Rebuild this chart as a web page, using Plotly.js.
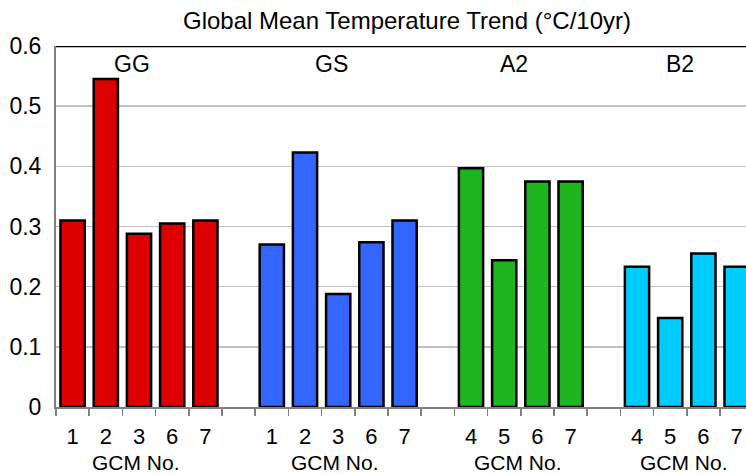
<!DOCTYPE html>
<html><head><meta charset="utf-8">
<script src="https://cdn.plot.ly/plotly-3.0.1.min.js"></script>
<style>html,body{margin:0;padding:0;overflow:hidden;background:#fff}</style>
</head><body><div id="chart" style="width:746px;height:475px"></div>
<script>
const groupNames = ['GG', 'GS', 'A2', 'B2'];
const gcmGG = ['1', '2', '3', '6', '7'];
const gcmGS = ['1', '2', '3', '6', '7'];
const gcmA2 = ['4', '5', '6', '7'];
const gcmB2 = ['4', '5', '6', '7'];
const trendGG = [0.31, 0.545, 0.288, 0.305, 0.31];
const trendGS = [0.27, 0.423, 0.188, 0.274, 0.31];
const trendA2 = [0.397, 0.244, 0.375, 0.375];
const trendB2 = [0.233, 0.148, 0.255, 0.233];
const groupColors = ['#DD0000', '#3366FF', '#1FB51F', '#00CCFF'];
const yTickVals = [0, 0.1, 0.2, 0.3, 0.4, 0.5, 0.6];
const yTickText = ['0', '0.1', '0.2', '0.3', '0.4', '0.5', '0.6'];
const xLabel = 'GCM No.';
const chartTitle = 'Global Mean Temperature Trend (°C/10yr)';

const groupLabels = [gcmGG, gcmGS, gcmA2, gcmB2];
const groupValues = [trendGG, trendGS, trendA2, trendB2];

const FONT = '"Liberation Sans", Arial, sans-serif';
const FS = 23;
const traces = [];
const tickVals = [], tickText = [];
const annotations = [];
let pos = 0;
groupNames.forEach((name, g) => {
  const xs = groupLabels[g].map((_, i) => pos + i);
  xs.forEach((x, i) => { tickVals.push(x); tickText.push(groupLabels[g][i]); });
  traces.push({
    type: 'bar', x: xs, y: groupValues[g], name: name,
    marker: {color: groupColors[g], line: {color: '#000', width: 2.5}},
    hoverinfo: 'x+y'
  });
  const center = pos + (xs.length - 1) / 2;
  annotations.push({x: center, y: 1, xref: 'x', yref: 'paper', text: name, showarrow: false,
    xshift: -7, yshift: -18, yanchor: 'middle', font: {family: FONT, size: FS, color: '#000'}});
  annotations.push({x: center, y: 0, xref: 'x', yref: 'paper', text: xLabel, showarrow: false,
    xshift: -3, yshift: -55, yanchor: 'middle', borderpad: 0,
    font: {family: FONT, size: 21, color: '#000'}});
  pos += xs.length + 1;
});
const nSlots = pos - 1;
const bounds = [];
for (let b = -0.5; b <= nSlots - 0.5 + 1e-9; b += 1) bounds.push(b);

const plotW = 746 - 56;
const slotPx = 33.2;

const layout = {
  width: 746, height: 475,
  margin: {l: 56, r: 0, t: 46, b: 68},
  paper_bgcolor: '#fff', plot_bgcolor: '#fff',
  showlegend: false,
  barmode: 'overlay', bargap: 0.27,
  font: {family: FONT, size: FS, color: '#000'},
  title: {text: chartTitle, x: 407 / 746, xref: 'container', xanchor: 'center',
    y: 1 - 21 / 475, yref: 'container', yanchor: 'middle',
    font: {family: FONT, size: 24, color: '#000'}},
  xaxis: {
    range: [-0.5, -0.5 + plotW / slotPx],
    tickmode: 'array', tickvals: tickVals, ticktext: tickText,
    ticks: '', ticklabelstandoff: 9,
    showline: true, linecolor: '#808080', linewidth: 2,
    showgrid: false, zeroline: false,
    minor: {tickmode: 'array', tickvals: bounds, ticks: 'outside', ticklen: 7,
      tickwidth: 1.5, tickcolor: '#808080', showgrid: false},
    tickfont: {family: FONT, size: 22, color: '#000'},
    fixedrange: true
  },
  yaxis: {
    range: [0, 0.6],
    tickmode: 'array', tickvals: yTickVals, ticktext: yTickText,
    ticks: '', ticklabelstandoff: 8,
    showline: true, linecolor: '#808080', linewidth: 2,
    showgrid: true, gridcolor: '#C0C0C0', gridwidth: 1.5,
    zeroline: false,
    tickfont: {family: FONT, size: FS, color: '#000'},
    fixedrange: true
  },
  shapes: [{type: 'line', xref: 'paper', x0: 0, x1: 1, yref: 'y', y0: 0.6, y1: 0.6,
    line: {color: '#000', width: 2.5}}],
  annotations: annotations
};

Plotly.newPlot('chart', traces, layout, {displayModeBar: false, staticPlot: true});
</script>
</body></html>
